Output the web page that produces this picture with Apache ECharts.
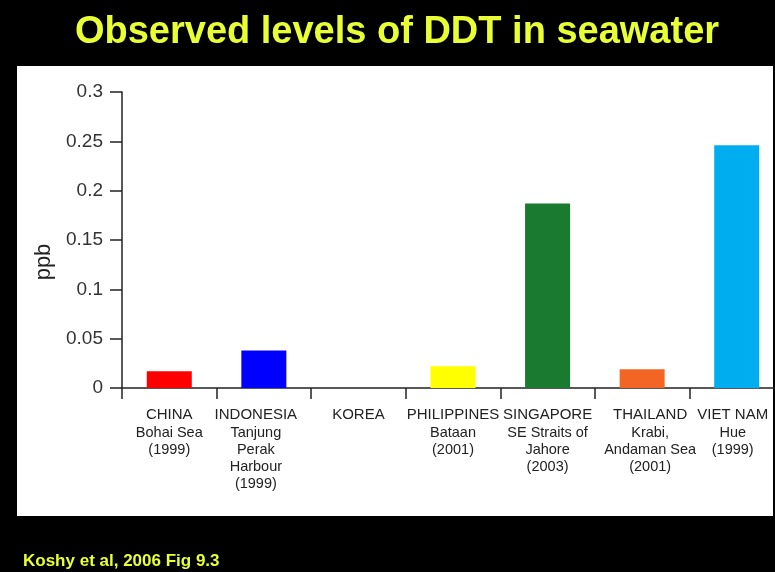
<!DOCTYPE html>
<html>
<head>
<meta charset="utf-8">
<script src="https://cdn.jsdelivr.net/npm/echarts@6/dist/echarts.min.js"></script>
<style>
  html, body { margin: 0; padding: 0; background: #000; overflow: hidden; }
  /* the plot runs slightly past the right edge of the window */
  #chart { width: 784px; height: 572px; }
</style>
</head>
<body>
<div id="chart"></div>
<script>
// Country names (first label line) and sampling site / year (following lines)
const countries = ['CHINA', 'INDONESIA', 'KOREA', 'PHILIPPINES', 'SINGAPORE', 'THAILAND', 'VIET NAM'];
const sites = [
  ['Bohai Sea', '(1999)'],
  ['Tanjung', 'Perak', 'Harbour', '(1999)'],
  [],
  ['Bataan', '(2001)'],
  ['SE Straits of', 'Jahore', '(2003)'],
  ['Krabi,', 'Andaman Sea', '(2001)'],
  ['Hue', '(1999)']
];
// DDT concentration in seawater, ppb (no bar for Korea)
const ddtPpb = [0.017, 0.038, null, 0.022, 0.187, 0.019, 0.246];
const barColors = ['#ff0000', '#0000ff', '#ffffff', '#ffff00', '#1a7a30', '#f26522', '#00aeef'];
const yTickLabels = ['0', '0.05', '0.1', '0.15', '0.2', '0.25', '0.3'];
// horizontal nudge of each category label (px, + = right)
const labelShift = [0, -8, 0, 0, 0, 8, -4];

const chart = echarts.init(document.getElementById('chart'), null, { renderer: 'canvas' });

const categoryData = countries.map((c, i) => {
  const s = labelShift[i];
  return {
    value: String(i),
    textStyle: { padding: s >= 0 ? [0, 0, 0, 2 * s] : [0, -2 * s, 0, 0] }
  };
});

chart.setOption({
  backgroundColor: '#000000',
  animation: false,
  title: [
    {
      text: 'Observed levels of DDT in seawater',
      left: 392,
      textAlign: 'center',
      top: 9,
      textStyle: {
        color: '#e8ff33',
        fontSize: 38,
        fontWeight: 'bold',
        fontFamily: 'Liberation Sans, Arial, sans-serif'
      }
    },
    {
      text: 'Koshy et al, 2006 Fig 9.3',
      left: 23,
      top: 553,
      padding: 0,
      textStyle: {
        color: '#e8ff33',
        fontSize: 17,
        fontWeight: 'bold',
        fontFamily: 'Liberation Sans, Arial, sans-serif'
      }
    }
  ],
  graphic: [
    {
      type: 'rect',
      z: -100,
      silent: true,
      shape: { x: 17, y: 66, width: 756, height: 450 },
      style: { fill: '#ffffff' }
    }
  ],
  grid: {
    left: 122,
    right: 0,
    top: 92,
    bottom: 184,
    containLabel: false
  },
  xAxis: {
    type: 'category',
    data: categoryData,
    boundaryGap: true,
    axisLine: { lineStyle: { color: '#222', width: 1.5 } },
    axisTick: { show: true, inside: false, length: 11, alignWithLabel: false, lineStyle: { color: '#222', width: 1.5 } },
    axisLabel: {
      interval: 0,
      margin: 17,
      color: '#222',
      lineHeight: 18,
      formatter: function (val) {
        const i = Number(val);
        const lines = ['{c|' + countries[i] + '}'];
        sites[i].forEach(s => lines.push('{s|' + s + '}'));
        return lines.join('\n');
      },
      rich: {
        c: {
          fontSize: 15,
          lineHeight: 19,
          color: '#222',
          fontFamily: 'Liberation Sans, Arial, sans-serif'
        },
        s: {
          fontSize: 14.5,
          lineHeight: 17,
          color: '#222',
          fontFamily: 'Liberation Sans, Arial, sans-serif'
        }
      }
    },
    splitLine: { show: false }
  },
  yAxis: {
    type: 'value',
    min: 0,
    max: 0.3,
    interval: 0.05,
    name: 'ppb',
    nameLocation: 'middle',
    nameGap: 57,
    nameRotate: 90,
    nameTextStyle: {
      fontSize: 22,
      color: '#222',
      fontFamily: 'Liberation Sans, Arial, sans-serif',
      padding: [0, 44, 0, 0]
    },
    axisLine: { show: true, lineStyle: { color: '#222', width: 1.5 } },
    axisTick: { show: true, inside: false, length: 12, lineStyle: { color: '#222', width: 1.5 } },
    axisLabel: {
      margin: 19,
      fontSize: 19,
      color: '#333',
      fontFamily: 'Liberation Sans, Arial, sans-serif',
      formatter: function (v) {
        const idx = Math.round(v / 0.05);
        return yTickLabels[idx] !== undefined ? yTickLabels[idx] : '';
      }
    },
    splitLine: { show: false }
  },
  series: [
    {
      type: 'bar',
      barWidth: 45,
      data: ddtPpb.map((v, i) => ({ value: v, itemStyle: { color: barColors[i] } }))
    }
  ]
});
</script>
</body>
</html>
